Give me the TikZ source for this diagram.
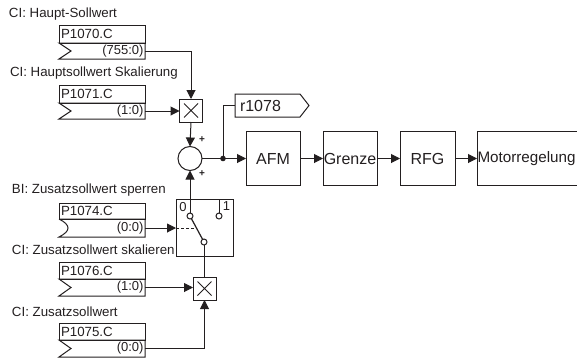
\documentclass[tikz,border=0pt]{standalone}
\usepackage{fontspec}
\setmainfont{Liberation Sans}
\usetikzlibrary{arrows.meta, positioning, calc}
\definecolor{linecolor}{RGB}{35,31,32}

\begin{document}
\begin{tikzpicture}[
    x=1pt, y=-1pt,
    every node/.style={text=linecolor, inner sep=0pt, outer sep=0pt},
    wire/.style={draw=linecolor, line width=1pt},
    flow/.style={wire, -{Triangle[length=9pt,width=9pt]}},
    caption/.style={anchor=west, font=\fontsize{13.3}{15}\selectfont},
    parbox/.style={draw=linecolor, line width=1pt, minimum width=86pt, anchor=north west, font=\fontsize{13.3}{15}\selectfont, text width=82pt, align=left},
    valbox/.style={minimum width=86pt, anchor=north west, font=\fontsize{13}{15}\selectfont, text width=83pt, align=right},
    mulbox/.style={draw=linecolor, line width=1pt, minimum size=23pt},
    block/.style={draw=linecolor, line width=1pt, minimum height=54pt, font=\fontsize{16}{18}\selectfont},
    contact/.style={circle, draw=linecolor, fill=white, line width=1pt, minimum size=6pt}
]
\clip (0,0) rectangle (577,359);

% parameter boxes
\foreach \nm/\yy/\hh/\vv/\val in {1070/25/18/16/755:0, 1071/85/18/16/1:0, 1076/262/17/17/1:0, 1075/323/17/17/0:0}{
    \node[parbox, minimum height=\hh pt] (p\nm) at (59,\yy) {P\nm.C};
    \node[valbox, minimum height=\vv pt, below=0pt of p\nm.south west, anchor=north west] (v\nm) {(\val)};
    \draw[wire] (v\nm.north west) -- (v\nm.north east) -- (v\nm.south east) -- (v\nm.south west) -- ($(v\nm.west)+(12,0)$) -- cycle;
}
\node[parbox, minimum height=16pt] (p1074) at (59,203) {P1074.C};
\node[valbox, minimum height=18pt, below=0pt of p1074.south west, anchor=north west] (v1074) {(0:0)};
\draw[wire] (v1074.north west) -- (v1074.north east) -- (v1074.south east) -- (v1074.south west) .. controls ($(v1074.west)+(12,3)$) and ($(v1074.west)+(12,-3)$) .. (v1074.north west);

% captions
\node[caption] (c1070) at (9,14) {CI: Haupt-Sollwert};
\node[caption] (c1071) at (10,73) {CI: Hauptsollwert Skalierung};
\node[caption] (c1074) at (12,190) {BI: Zusatzsollwert sperren};
\node[caption] (c1076) at (12,250) {CI: Zusatzsollwert skalieren};
\node[caption] (c1075) at (12,312) {CI: Zusatzsollwert};

% summing path
\node[mulbox] (mula) at (191,110.5) {};
\draw[linecolor, line width=0.9pt] (mula.center)+(-7,-7) -- +(7,7) (mula.center)+(-7,7) -- +(7,-7);
\node[circle, draw=linecolor, line width=1pt, minimum size=24pt] (summer) at (190,158.5) {};
\node[font=\fontsize{10}{12}\bfseries\selectfont] (plusa) at (202,140) {+};
\node[font=\fontsize{10}{12}\bfseries\selectfont] (plusb) at (202,174) {+};
\draw[flow] (v1070.east) -| (mula.north);
\draw[flow] (v1071.east) -- (v1071.east -| mula.west);
\draw[flow] (mula.south) -- (summer.north);

% blocks
\node[block, minimum width=54pt] (afm) at (273,158.5) {AFM};
\node[block, minimum width=54pt, right=23pt of afm] (grenze) {Grenze};
\node[block, minimum width=55pt, right=23pt of grenze] (rfg) {RFG};
\node[block, minimum width=110pt, right=22pt of rfg] (motor) {};
\node[anchor=west, font=\fontsize{15.2}{18}\selectfont] (motortxt) at (477.5,158.5) {Motorregelung};
\draw[flow] (summer.east) -- (afm.west);
\draw[flow] (afm.east) -- (grenze.west);
\draw[flow] (grenze.east) -- (rfg.west);
\draw[flow] (rfg.east) -- (motor.west);

% signal output
\coordinate (tap) at (223,158.5);
\fill[linecolor] (tap) circle (2.8pt);
\node[anchor=west, minimum width=65pt, minimum height=23pt, text width=60pt, align=left, font=\fontsize{16}{18}\selectfont] (r1078) at (235,105.5) {\hspace{2.5pt}r1078};
\draw[wire] (r1078.north west) -- (r1078.north east) -- ++(9,11.5) -- (r1078.south east) -- (r1078.south west) -- cycle;
\draw[wire] (tap) |- (r1078.west);

% switch
\node[draw=linecolor, line width=1pt, minimum width=57pt, minimum height=57pt] (switch) at (204.5,227.5) {};
\node[font=\fontsize{13}{15}\selectfont] (zero) at (183,207) {0};
\node[font=\fontsize{13}{15}\selectfont] (one) at (226.5,206.5) {1};
\node[contact] (conta) at (190,216) {};
\node[contact] (contb) at (219,216) {};
\node[contact] (contc) at (204,242) {};
\draw[flow] (conta.north) -- (summer.south);
\draw[wire] (contb.north) -- (contb.north |- switch.north);
\draw[wire, line width=1.2pt] (conta) -- (contc);
\coordinate (leverpt) at ($(v1074.east -| switch.west)+(20,0)$);
\draw[flow] (v1074.east) -- (v1074.east -| switch.west);
\draw[wire, dash pattern=on 3pt off 2pt] (v1074.east -| switch.west) -- (leverpt);

% lower multiplier
\node[mulbox] (mulb) at (204.5,288.5) {};
\draw[linecolor, line width=0.9pt] (mulb.center)+(-7,-7) -- +(7,7) (mulb.center)+(-7,7) -- +(7,-7);
\draw[wire] (contc.south) -- (mulb.north -| contc.south);
\draw[flow] (v1076.east) -- (v1076.east -| mulb.west);
\draw[flow] (v1075.east) -| (mulb.south);
\end{tikzpicture}
\end{document}
